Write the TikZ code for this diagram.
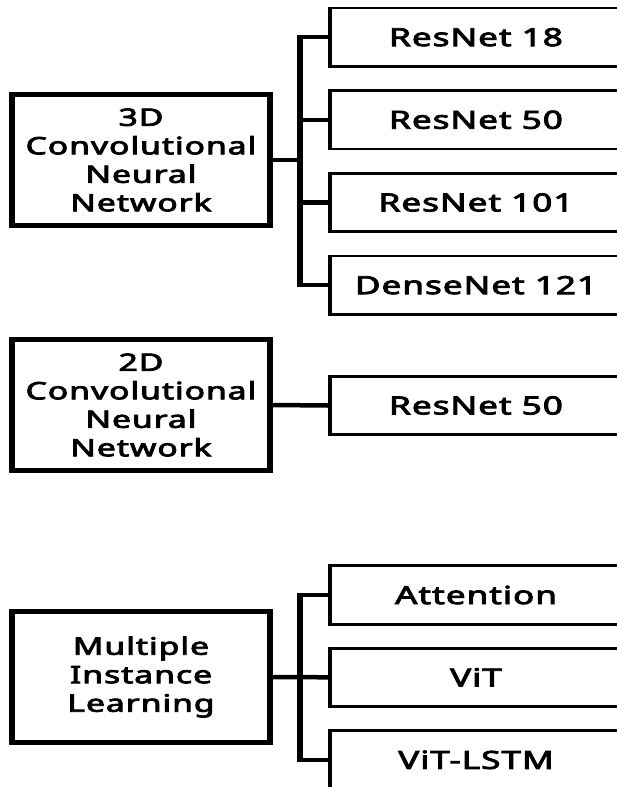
\documentclass[tikz,border=0pt]{standalone}
\usepackage{fontspec}
\setmainfont{Noto Sans}[BoldFont={Noto Sans}, BoldFeatures={FakeBold=3, LetterSpace=3}]
\begin{document}
\begin{tikzpicture}[x=1pt,y=-1pt]
  \tikzset{
    parentbox/.style={draw=black, line width=4.5pt, minimum width=184pt,
      minimum height=131pt, inner sep=0pt, align=center,
      font=\bfseries\fontsize{24}{28.5}\selectfont},
    childbox/.style={draw=black, line width=2.8pt, minimum width=208.6pt,
      minimum height=58.3pt, inner sep=0pt,
      font=\bfseries\fontsize{25}{28}\selectfont},
    link/.style={draw=black, line width=4.5pt},
  }
  \useasboundingbox (0,0) rectangle (617,787);
  \fill[white] (0,0) rectangle (617,787);
  \clip (0,0) rectangle (617,787);
  % everything is drawn in a horizontally widened canvas
  \begin{scope}[transform canvas={xscale=1.4}, x=0.714286pt]
    % 3D CNN family
    \node[parentbox] (cnn3d) at (141,160) {3D\\Convolutional\\Neural\\Network};
    \node[childbox] (r18)  at (476,37.2)  {ResNet 18};
    \node[childbox] (r50)  at (476,119.8) {ResNet 50};
    \node[childbox] (r101) at (476,202.5) {ResNet 101};
    \node[childbox] (d121) at (476,285.2) {DenseNet 121};
    \coordinate (bus3d) at (300,160);
    \draw[link] (cnn3d.east) -- (bus3d);
    \draw[link] (r18.west) -| (bus3d) |- (d121.west);
    \draw[link] (bus3d |- r50.west) -- (r50.west);
    \draw[link] (bus3d |- r101.west) -- (r101.west);

    % 2D CNN family
    \node[parentbox] (cnn2d) at (141,405) {2D\\Convolutional\\Neural\\Network};
    \node[childbox] (r50b) at (476,405.5) {ResNet 50};
    \draw[link] (cnn2d.east) -- (r50b.west);

    % multiple instance learning family
    \node[parentbox] (mil) at (141,677) {Multiple\\Instance\\Learning};
    \node[childbox] (att)  at (476,595)   {Attention};
    \node[childbox] (vit)  at (476,677.3) {ViT};
    \node[childbox] (vitl) at (476,759.8) {ViT-LSTM};
    \coordinate (busmil) at (300,677);
    \draw[link] (att.west) -| (busmil) |- (vitl.west);
    \draw[link] (mil.east) -- (vit.west);
  \end{scope}
\end{tikzpicture}
\end{document}
